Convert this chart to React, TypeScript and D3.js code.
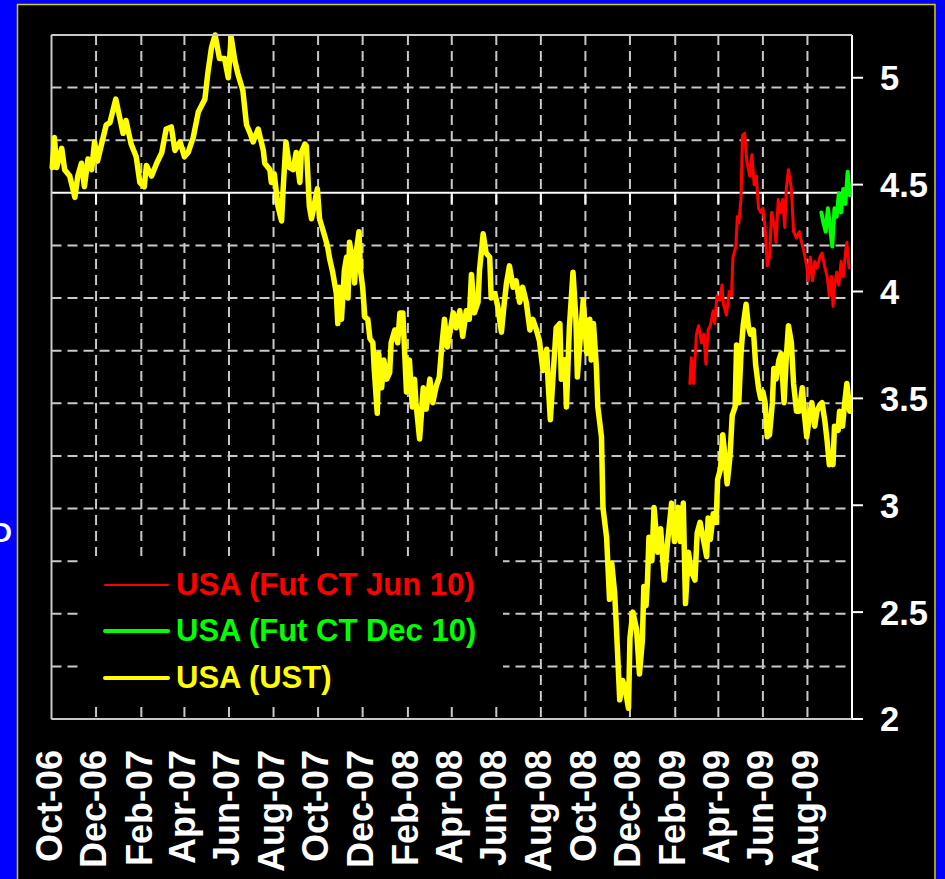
import * as d3 from "d3";

const xTickLabels = ["Oct-06", "Dec-06", "Feb-07", "Apr-07", "Jun-07", "Aug-07", "Oct-07", "Dec-07", "Feb-08",
  "Apr-08", "Jun-08", "Aug-08", "Oct-08", "Dec-08", "Feb-09", "Apr-09", "Jun-09", "Aug-09"];
const xTickDates = ["2006-10-01", "2006-12-01", "2007-02-01", "2007-04-01", "2007-06-01", "2007-08-01", "2007-10-01",
  "2007-12-01", "2008-02-01", "2008-04-01", "2008-06-01", "2008-08-01", "2008-10-01", "2008-12-01", "2009-02-01",
  "2009-04-01", "2009-06-01", "2009-08-01"];
const yTicks = [2, 2.5, 3, 3.5, 4, 4.5, 5];
const yTickLabels = ["2", "2.5", "3", "3.5", "4", "4.5", "5"];
const gridTicks = d3.range(-10, 4); // hidden primary axis, only its gridlines show

const seriesNames = ["USA (Fut CT Jun 10)", "USA (Fut CT Dec 10)", "USA (UST)"];
const seriesColors = ["#ff0000", "#00ff00", "#ffff00"];

const ust: [string, number][] = [
  ["2006-10-02", 4.58], ["2006-10-05", 4.72], ["2006-10-08", 4.58], ["2006-10-15", 4.67], ["2006-10-19", 4.57],
  ["2006-10-26", 4.54], ["2006-11-02", 4.44], ["2006-11-06", 4.54], ["2006-11-11", 4.6], ["2006-11-15", 4.49],
  ["2006-11-20", 4.62], ["2006-11-25", 4.57], ["2006-11-29", 4.7], ["2006-12-03", 4.61], ["2006-12-10", 4.71],
  ["2006-12-15", 4.78], ["2006-12-20", 4.79], ["2006-12-28", 4.9], ["2007-01-02", 4.82], ["2007-01-07", 4.74],
  ["2007-01-11", 4.8], ["2007-01-18", 4.69], ["2007-01-25", 4.63], ["2007-01-30", 4.51], ["2007-02-05", 4.49],
  ["2007-02-08", 4.59], ["2007-02-15", 4.54], ["2007-02-22", 4.6], ["2007-03-01", 4.65], ["2007-03-07", 4.76],
  ["2007-03-14", 4.77], ["2007-03-19", 4.66], ["2007-03-26", 4.7], ["2007-04-01", 4.63], ["2007-04-06", 4.65],
  ["2007-04-13", 4.72], ["2007-04-20", 4.84], ["2007-04-29", 4.9], ["2007-05-03", 5.02], ["2007-05-08", 5.14],
  ["2007-05-13", 5.2], ["2007-05-19", 5.09], ["2007-05-26", 5.09], ["2007-05-31", 5.0], ["2007-06-04", 5.19],
  ["2007-06-09", 5.08], ["2007-06-13", 5.02], ["2007-06-20", 4.94], ["2007-06-25", 4.78], ["2007-06-30", 4.74],
  ["2007-07-04", 4.7], ["2007-07-11", 4.76], ["2007-07-18", 4.66], ["2007-07-20", 4.6], ["2007-07-27", 4.57],
  ["2007-07-29", 4.51], ["2007-08-02", 4.55], ["2007-08-07", 4.4], ["2007-08-12", 4.33], ["2007-08-14", 4.47],
  ["2007-08-18", 4.7], ["2007-08-23", 4.58], ["2007-08-28", 4.57], ["2007-09-01", 4.65], ["2007-09-06", 4.51],
  ["2007-09-08", 4.65], ["2007-09-13", 4.69], ["2007-09-15", 4.68], ["2007-09-19", 4.4], ["2007-09-22", 4.34],
  ["2007-09-26", 4.41], ["2007-09-30", 4.48], ["2007-10-03", 4.34], ["2007-10-10", 4.26], ["2007-10-14", 4.21],
  ["2007-10-17", 4.15], ["2007-10-21", 4.09], ["2007-10-26", 3.99], ["2007-10-28", 3.85], ["2007-10-30", 4.02],
  ["2007-11-02", 3.87], ["2007-11-06", 4.1], ["2007-11-09", 4.16], ["2007-11-11", 3.97], ["2007-11-13", 4.23],
  ["2007-11-18", 4.13], ["2007-11-20", 4.04], ["2007-11-22", 4.18], ["2007-11-26", 4.28], ["2007-11-28", 4.1],
  ["2007-12-01", 4.02], ["2007-12-04", 3.88], ["2007-12-08", 3.87], ["2007-12-11", 3.78], ["2007-12-15", 3.76],
  ["2007-12-17", 3.63], ["2007-12-21", 3.43], ["2007-12-23", 3.71], ["2007-12-27", 3.55], ["2007-12-30", 3.68],
  ["2008-01-03", 3.59], ["2008-01-07", 3.62], ["2008-01-09", 3.76], ["2008-01-14", 3.82], ["2008-01-18", 3.76],
  ["2008-01-21", 3.9], ["2008-01-25", 3.9], ["2008-01-28", 3.68], ["2008-01-30", 3.53], ["2008-02-03", 3.68],
  ["2008-02-07", 3.46], ["2008-02-10", 3.59], ["2008-02-12", 3.48], ["2008-02-17", 3.31], ["2008-02-22", 3.55],
  ["2008-02-26", 3.45], ["2008-03-02", 3.59], ["2008-03-06", 3.48], ["2008-03-11", 3.56], ["2008-03-15", 3.6],
  ["2008-03-18", 3.73], ["2008-03-22", 3.87], ["2008-03-26", 3.74], ["2008-04-03", 3.9], ["2008-04-07", 3.83],
  ["2008-04-12", 3.91], ["2008-04-16", 3.79], ["2008-04-21", 3.91], ["2008-04-25", 3.87], ["2008-04-28", 4.08],
  ["2008-05-02", 3.9], ["2008-05-07", 3.95], ["2008-05-09", 4.1], ["2008-05-14", 4.27], ["2008-05-18", 4.18],
  ["2008-05-23", 4.16], ["2008-05-25", 3.97], ["2008-05-30", 3.99], ["2008-06-03", 3.93], ["2008-06-08", 3.81],
  ["2008-06-12", 3.95], ["2008-06-15", 4.04], ["2008-06-19", 4.12], ["2008-06-24", 4.02], ["2008-06-28", 4.05],
  ["2008-07-03", 3.95], ["2008-07-07", 4.02], ["2008-07-12", 3.95], ["2008-07-17", 3.82], ["2008-07-21", 3.87],
  ["2008-07-26", 3.82], ["2008-07-30", 3.77], ["2008-08-04", 3.63], ["2008-08-09", 3.73], ["2008-08-11", 3.57],
  ["2008-08-14", 3.4], ["2008-08-18", 3.62], ["2008-08-22", 3.83], ["2008-08-27", 3.85], ["2008-08-29", 3.59],
  ["2008-09-03", 3.68], ["2008-09-05", 3.46], ["2008-09-09", 3.83], ["2008-09-14", 4.09], ["2008-09-18", 3.87],
  ["2008-09-20", 3.6], ["2008-09-23", 3.74], ["2008-09-28", 3.96], ["2008-10-03", 3.71], ["2008-10-07", 3.87],
  ["2008-10-09", 3.68], ["2008-10-12", 3.85], ["2008-10-16", 3.65], ["2008-10-18", 3.46], ["2008-10-23", 3.32],
  ["2008-10-25", 2.99], ["2008-10-30", 2.85], ["2008-11-03", 2.56], ["2008-11-06", 2.73], ["2008-11-10", 2.59],
  ["2008-11-12", 2.46], ["2008-11-17", 2.09], ["2008-11-21", 2.18], ["2008-11-24", 2.15], ["2008-11-29", 2.05],
  ["2008-12-01", 2.38], ["2008-12-05", 2.5], ["2008-12-10", 2.42], ["2008-12-14", 2.21], ["2008-12-18", 2.37],
  ["2008-12-20", 2.62], ["2008-12-23", 2.53], ["2008-12-25", 2.65], ["2008-12-27", 2.85], ["2008-12-31", 2.74],
  ["2009-01-03", 2.99], ["2009-01-08", 2.78], ["2009-01-12", 2.89], ["2009-01-17", 2.65], ["2009-01-21", 2.81],
  ["2009-01-27", 3.01], ["2009-01-31", 2.83], ["2009-02-05", 2.99], ["2009-02-08", 2.83], ["2009-02-12", 3.01],
  ["2009-02-15", 2.54], ["2009-02-19", 2.78], ["2009-02-23", 2.69], ["2009-02-28", 2.65], ["2009-03-03", 2.87],
  ["2009-03-07", 2.92], ["2009-03-11", 2.85], ["2009-03-16", 2.76], ["2009-03-18", 2.94], ["2009-03-21", 2.84],
  ["2009-03-25", 2.96], ["2009-03-29", 2.92], ["2009-03-31", 3.12], ["2009-04-04", 3.17], ["2009-04-07", 3.33],
  ["2009-04-10", 3.23], ["2009-04-13", 3.1], ["2009-04-17", 3.23], ["2009-04-20", 3.42], ["2009-04-24", 3.46],
  ["2009-04-26", 3.75], ["2009-04-29", 3.48], ["2009-05-02", 3.71], ["2009-05-05", 3.84], ["2009-05-09", 3.94],
  ["2009-05-12", 3.84], ["2009-05-15", 3.8], ["2009-05-19", 3.82], ["2009-05-22", 3.66], ["2009-05-26", 3.55],
  ["2009-05-29", 3.5], ["2009-06-01", 3.53], ["2009-06-04", 3.48], ["2009-06-07", 3.32], ["2009-06-10", 3.33],
  ["2009-06-14", 3.48], ["2009-06-16", 3.64], ["2009-06-19", 3.59], ["2009-06-23", 3.68], ["2009-06-26", 3.71],
  ["2009-06-30", 3.48], ["2009-07-03", 3.69], ["2009-07-06", 3.84], ["2009-07-10", 3.76], ["2009-07-13", 3.57],
  ["2009-07-17", 3.44], ["2009-07-21", 3.44], ["2009-07-25", 3.55], ["2009-07-28", 3.42], ["2009-07-31", 3.32],
  ["2009-08-04", 3.42], ["2009-08-07", 3.48], ["2009-08-11", 3.37], ["2009-08-14", 3.44], ["2009-08-18", 3.47],
  ["2009-08-21", 3.48], ["2009-08-25", 3.39], ["2009-08-28", 3.3], ["2009-08-31", 3.19], ["2009-09-03", 3.24],
  ["2009-09-05", 3.19], ["2009-09-07", 3.37], ["2009-09-12", 3.35], ["2009-09-14", 3.44], ["2009-09-18", 3.37],
  ["2009-09-21", 3.48], ["2009-09-24", 3.57], ["2009-09-28", 3.44],
];

const futJun10: [string, number][] = [
  ["2009-02-21", 3.57], ["2009-02-23", 3.69], ["2009-02-26", 3.57], ["2009-03-02", 3.8], ["2009-03-05", 3.84],
  ["2009-03-09", 3.76], ["2009-03-12", 3.8], ["2009-03-15", 3.66], ["2009-03-18", 3.82], ["2009-03-21", 3.84],
  ["2009-03-25", 3.91], ["2009-03-27", 3.85], ["2009-03-30", 3.98], ["2009-04-03", 3.96], ["2009-04-06", 4.03],
  ["2009-04-08", 3.94], ["2009-04-12", 3.89], ["2009-04-16", 4.0], ["2009-04-19", 3.98], ["2009-04-21", 4.16],
  ["2009-04-25", 4.21], ["2009-04-27", 4.35], ["2009-04-29", 4.32], ["2009-05-02", 4.43], ["2009-05-04", 4.73],
  ["2009-05-07", 4.74], ["2009-05-10", 4.61], ["2009-05-14", 4.54], ["2009-05-17", 4.64], ["2009-05-20", 4.5],
  ["2009-05-23", 4.54], ["2009-05-26", 4.39], ["2009-05-29", 4.37], ["2009-06-01", 4.39], ["2009-06-04", 4.3],
  ["2009-06-07", 4.12], ["2009-06-10", 4.16], ["2009-06-13", 4.37], ["2009-06-17", 4.3], ["2009-06-19", 4.23],
  ["2009-06-22", 4.43], ["2009-06-25", 4.37], ["2009-06-28", 4.43], ["2009-07-01", 4.3], ["2009-07-03", 4.48],
  ["2009-07-06", 4.57], ["2009-07-10", 4.48], ["2009-07-13", 4.28], ["2009-07-17", 4.25], ["2009-07-21", 4.28],
  ["2009-07-24", 4.23], ["2009-07-27", 4.19], ["2009-07-31", 4.12], ["2009-08-02", 4.05], ["2009-08-05", 4.16],
  ["2009-08-08", 4.05], ["2009-08-11", 4.14], ["2009-08-14", 4.11], ["2009-08-18", 4.16], ["2009-08-21", 4.18],
  ["2009-08-25", 4.11], ["2009-08-28", 4.07], ["2009-08-31", 3.98], ["2009-09-03", 4.07], ["2009-09-05", 3.93],
  ["2009-09-07", 4.02], ["2009-09-10", 4.09], ["2009-09-13", 4.03], ["2009-09-16", 4.14], ["2009-09-19", 4.07],
  ["2009-09-22", 4.18], ["2009-09-24", 4.23], ["2009-09-27", 4.11],
];

const futDec10: [string, number][] = [
  ["2009-08-20", 4.37], ["2009-08-23", 4.32], ["2009-08-26", 4.28], ["2009-08-29", 4.39], ["2009-09-01", 4.3],
  ["2009-09-04", 4.21], ["2009-09-07", 4.39], ["2009-09-10", 4.35], ["2009-09-13", 4.46], ["2009-09-16", 4.37],
  ["2009-09-19", 4.48], ["2009-09-22", 4.41], ["2009-09-25", 4.56], ["2009-09-28", 4.45],
];

const parse = d3.timeParse("%Y-%m-%d");

export default function App() {
  const width = 945;
  const height = 879;
  const plot = { left: 51.5, right: 852, top: 35, bottom: 719 };
  const font = "'Liberation Sans', Arial, sans-serif";

  const x = d3
    .scaleTime()
    .domain([parse("2006-10-01")!, parse("2009-10-01")!])
    .range([plot.left, plot.right]);
  const y = d3.scaleLinear().domain([2, 5.2]).range([plot.bottom, plot.top]);
  const yGrid = d3.scaleLinear().domain([-10, 3]).range([plot.bottom, plot.top]);

  const line = d3
    .line<[string, number]>()
    .x((d) => x(parse(d[0])!))
    .y((d) => y(d[1]));

  const series = [
    { data: ust, color: seriesColors[2], w: 5.5 },
    { data: futJun10, color: seriesColors[0], w: 3 },
    { data: futDec10, color: seriesColors[1], w: 4 },
  ];

  const gridColor = "#c8c8c8";
  const dash = "10,6";
  const legendY = [585, 631, 678];
  const legendW = [2, 4, 4];

  return (
    <svg
      width={width}
      height={height}
      style={{ position: "absolute", left: 0, top: 0, background: "#0000ff" }}
    >
      <rect x={0} y={0} width={width} height={height} fill="#0000ff" />
      <text x={12} y={542} textAnchor="end" fill="#fff" fontFamily={font} fontWeight="bold" fontSize={28}>
        D
      </text>
      <rect x={17.5} y={4.5} width={917.5} height={900} fill="#000" stroke="#d8cf00" strokeWidth={1.5} />

      {/* horizontal gridlines of the hidden left axis */}
      {gridTicks.map((t) =>
        t === 0 ? null : (
          <line
            key={"h" + t}
            x1={plot.left}
            x2={plot.right}
            y1={yGrid(t)}
            y2={yGrid(t)}
            stroke={gridColor}
            strokeWidth={2}
            strokeDasharray={t === 3 || t === -10 ? undefined : dash}
          />
        )
      )}

      {/* vertical gridlines */}
      {xTickDates.slice(1).map((d) => (
        <line
          key={"v" + d}
          x1={x(parse(d)!)}
          x2={x(parse(d)!)}
          y1={plot.top}
          y2={plot.bottom}
          stroke={gridColor}
          strokeWidth={2}
          strokeDasharray={dash}
        />
      ))}

      {/* zero line with ticks */}
      <line x1={plot.left} x2={plot.right} y1={yGrid(0)} y2={yGrid(0)} stroke="#fff" strokeWidth={2} />
      {xTickDates.slice(1).map((d) => (
        <line
          key={"zt" + d}
          x1={x(parse(d)!)}
          x2={x(parse(d)!)}
          y1={yGrid(0)}
          y2={yGrid(0) + 11}
          stroke="#fff"
          strokeWidth={2}
        />
      ))}

      {/* plot frame */}
      <line x1={plot.left} x2={plot.left} y1={plot.top} y2={plot.bottom} stroke={gridColor} strokeWidth={2} />
      <line x1={plot.right} x2={plot.right} y1={plot.top} y2={plot.bottom} stroke="#fff" strokeWidth={2} />

      {/* right axis */}
      {yTicks.map((t, i) => (
        <g key={"y" + t}>
          <line x1={plot.right} x2={plot.right + 11} y1={y(t)} y2={y(t)} stroke="#fff" strokeWidth={2} />
          <text
            x={880}
            y={y(t)}
            dy="0.36em"
            fill="#fff"
            fontFamily={font}
            fontWeight="bold"
            fontSize={34.5}
          >
            {yTickLabels[i]}
          </text>
        </g>
      ))}

      {/* x labels */}
      {xTickDates.map((d, i) => (
        <text
          key={"x" + d}
          transform={`translate(${x(parse(d)!) - 2.8},750) rotate(-90)`}
          dy="0.36em"
          textAnchor="end"
          fill="#fff"
          fontFamily={font}
          fontWeight="bold"
          fontSize={36}
        >
          {xTickLabels[i]}
        </text>
      ))}

      {series.map((s, i) => (
        <path
          key={"s" + i}
          d={line(s.data) ?? ""}
          fill="none"
          stroke={s.color}
          strokeWidth={s.w}
          strokeLinejoin="round"
          strokeLinecap="round"
        />
      ))}

      {/* legend */}
      <rect x={80} y={556} width={423} height={151} fill="#000" />
      {seriesNames.map((name, i) => (
        <g key={"l" + i}>
          <line x1={105} x2={168} y1={legendY[i]} y2={legendY[i]} stroke={seriesColors[i]} strokeWidth={legendW[i]} strokeLinecap="round" />
          <text
            x={176}
            y={legendY[i] + 10}
            fill={seriesColors[i]}
            fontFamily={font}
            fontWeight="bold"
            fontSize={31}
          >
            {name}
          </text>
        </g>
      ))}

      <line x1={plot.left} x2={plot.right} y1={plot.top} y2={plot.top} stroke={gridColor} strokeWidth={2} />
      <line x1={plot.left} x2={plot.right} y1={plot.bottom} y2={plot.bottom} stroke={gridColor} strokeWidth={2} />
    </svg>
  );
}
